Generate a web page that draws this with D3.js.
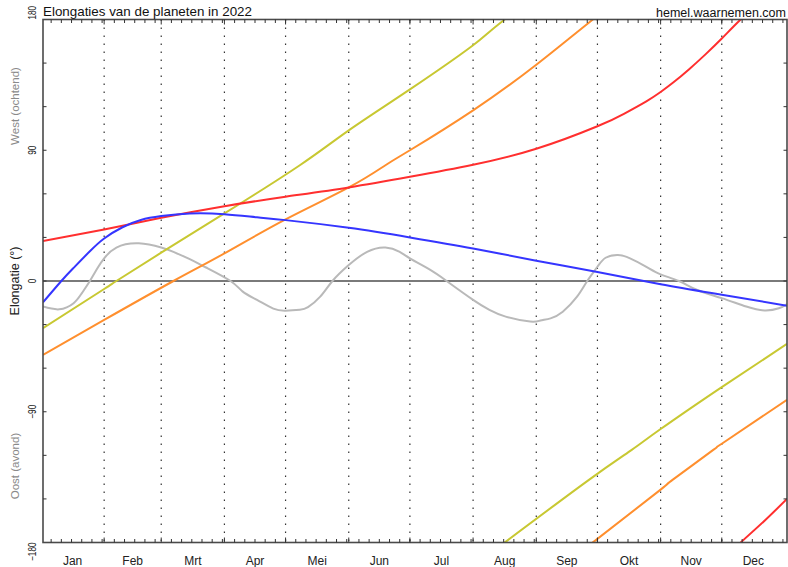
<!DOCTYPE html>
<html>
<head>
<meta charset="utf-8">
<script src="https://cdn.jsdelivr.net/npm/d3@7"></script>
<style>
  html, body { margin: 0; padding: 0; background: #fff; }
  svg { display: block; font-family: "Liberation Sans", Arial, sans-serif; }
</style>
</head>
<body>
<div id="chart"></div>
<script>
// maanden en hun lengte (2022)
const months = ['Jan', 'Feb', 'Mrt', 'Apr', 'Mei', 'Jun', 'Jul', 'Aug', 'Sep', 'Okt', 'Nov', 'Dec'];
const monthDays = [31, 28, 31, 30, 31, 30, 31, 31, 30, 31, 30, 31];
const yTicks = [-180, -90, 0, 90, 180];

// elongatie in graden per dag van het jaar (west = positief)
const mercuryDays = [1, 9, 16, 20, 24, 28, 31, 37, 48, 59, 65, 73, 81, 93, 99, 106, 114, 120, 127, 131, 137, 143,
  151, 160, 169, 176, 181, 191, 199, 212, 220, 228, 240, 245, 250, 256, 263, 268, 273, 277, 283, 289, 297,
  304, 313, 322, 334, 346, 355, 362, 366];
const mercuryElong = [-17.6, -19.5, -15.3, -8.5, 0, 9.5, 15.6, 23, 25.9, 23.1, 20.1, 15, 9.3, 0, -7.3, -13, -19, -20.4, -19.8, -18, -10.8, 0,
  11, 20.1, 23.1, 20.1, 15.6, 7.6, 0, -13, -19.9, -24.5, -27.9, -27.2, -25.7, -21.1, -10.8, 0, 9.8, 16, 17.9, 15.6, 9.8,
  4.6, 0, -6.2, -11.8, -17.6, -20.3, -18.8, -15.8];

const venusDays = [1, 10, 16, 24, 31, 40, 49, 59, 73, 90, 106, 120, 151, 181, 212, 243, 273, 304, 334, 366];
const venusElong = [-14.7, 0, 9, 20.5, 29.3, 37, 42, 44.7, 46.5, 46, 43.8, 41.9, 36.6, 30, 22.4, 14, 6.2, -2.2, -9.4, -17];

const marsDays = [1, 31, 59, 90, 120, 151, 181, 212, 243, 273, 286, 297, 304, 310, 318, 326, 334, 343, 355, 366];
const marsElong = [27.5, 35.5, 43.5, 51.5, 58, 64.4, 71.7, 80, 91, 106.5, 115.1, 123.7, 130.1, 136.4, 145.8, 156, 166.9, 179.7, -165, -150];

const jupiterDays = [1, 31, 65, 90, 120, 151, 169, 181, 212, 243, 270, 304, 310, 330, 334, 366];
const jupiterElong = [-50.8, -26.8, 0, 19, 42.4, 64.4, 79.7, 90, 117.5, 148.9, 179.2, -143.6, -136.7, -116.1, -112, -81.8];

const saturnDays = [1, 31, 37, 59, 90, 127, 151, 181, 212, 227, 269, 290, 304, 334, 366];
const saturnElong = [-32.5, -5.5, 0, 19.5, 46.5, 79.7, 103.7, 131.9, 162.3, 179.5, -136.7, -116.1, -101.9, -73, -43.3];

const planets = [
  { name: 'Mercurius', days: mercuryDays, vals: mercuryElong, color: '#b9b9b9' },
  { name: 'Saturnus', days: saturnDays, vals: saturnElong, color: '#c8c832' },
  { name: 'Jupiter', days: jupiterDays, vals: jupiterElong, color: '#ff8f2e' },
  { name: 'Mars', days: marsDays, vals: marsElong, color: '#ff2f2f' },
  { name: 'Venus', days: venusDays, vals: venusElong, color: '#3535ff' },
];

const width = 788, height = 567;
const plotL = 43, plotR = 787, plotT = 19.5, plotB = 542.5;

const x = d3.scaleLinear().domain([1, 366]).range([plotL, plotR]);
const y = d3.scaleLinear().domain([-180, 180]).range([plotB, plotT]);

const svg = d3.select('#chart').append('svg')
  .attr('width', width).attr('height', height)
  .attr('viewBox', `0 0 ${width} ${height}`);

svg.append('defs').append('clipPath').attr('id', 'plot-clip')
  .append('rect').attr('x', plotL).attr('y', plotT).attr('width', plotR - plotL).attr('height', plotB - plotT);

// maandgrenzen (dag waarop de maand eindigt)
const monthEnds = d3.cumsum(monthDays);
const monthStarts = [0, ...monthEnds.slice(0, -1)];

svg.append('g').selectAll('line').data(monthEnds.slice(0, -1)).join('line')
  .attr('x1', (d) => x(d)).attr('x2', (d) => x(d))
  .attr('y1', plotT).attr('y2', plotB)
  .attr('stroke', '#333').attr('stroke-width', 1.2)
  .attr('stroke-dasharray', '1.5,6.5');

// nul-lijn
svg.append('line')
  .attr('x1', plotL).attr('x2', plotR).attr('y1', y(0)).attr('y2', y(0))
  .attr('stroke', '#7a7a7a').attr('stroke-width', 2);

// curves, met omslag bij +/-180
function segments(days, vals) {
  const segs = [[]];
  days.forEach((d, i) => {
    if (i > 0 && Math.abs(vals[i] - vals[i - 1]) > 180) {
      const shift = vals[i] < vals[i - 1] ? 360 : -360;
      segs[segs.length - 1].push([d, vals[i] + shift]);
      segs.push([[days[i - 1], vals[i - 1] - shift]]);
    }
    segs[segs.length - 1].push([d, vals[i]]);
  });
  return segs;
}

const line = d3.line().x((d) => x(d[0])).y((d) => y(d[1])).curve(d3.curveNatural);

const curves = svg.append('g').attr('clip-path', 'url(#plot-clip)');
planets.forEach((p) => {
  curves.append('g').selectAll('path').data(segments(p.days, p.vals)).join('path')
    .attr('d', line)
    .attr('fill', 'none')
    .attr('stroke', p.color)
    .attr('stroke-width', 2)
    .attr('stroke-linejoin', 'round');
});

// kader
svg.append('rect')
  .attr('x', plotL).attr('y', plotT).attr('width', plotR - plotL).attr('height', plotB - plotT)
  .attr('fill', 'none').attr('stroke', '#4a4a4a').attr('stroke-width', 1.6);

// tijd-ticks: elke 5 dagen binnen de maand plus de maandgrenzen
const minorDays = [];
monthStarts.forEach((s, i) => {
  for (let k = 5; k <= monthDays[i]; k += 5) minorDays.push(s + k);
});
const ticksG = svg.append('g').attr('stroke', '#333').attr('stroke-width', 1);
[[minorDays, 3.5], [monthEnds.slice(0, -1), 5]].forEach(([days, len]) => {
  ticksG.append('g').selectAll('line').data(days).join('line')
    .attr('x1', (d) => x(d)).attr('x2', (d) => x(d)).attr('y1', plotB).attr('y2', plotB - len);
  ticksG.append('g').selectAll('line').data(days).join('line')
    .attr('x1', (d) => x(d)).attr('x2', (d) => x(d)).attr('y1', plotT).attr('y2', plotT + len);
});

// graden-ticks elke 30
const degTicks = d3.range(-150, 151, 30);
ticksG.append('g').selectAll('line').data(degTicks).join('line')
  .attr('x1', plotL).attr('x2', plotL + 3.5).attr('y1', (d) => y(d)).attr('y2', (d) => y(d));
ticksG.append('g').selectAll('line').data(degTicks).join('line')
  .attr('x1', plotR).attr('x2', plotR - 3.5).attr('y1', (d) => y(d)).attr('y2', (d) => y(d));

// maandnamen
svg.append('g').selectAll('text').data(months).join('text')
  .attr('x', (d, i) => x((monthStarts[i] + monthEnds[i]) / 2))
  .attr('y', 565)
  .attr('text-anchor', 'middle')
  .attr('font-size', 12)
  .attr('fill', '#222')
  .text((d) => d);

// y-labels (gedraaid)
svg.append('g').selectAll('text').data(yTicks).join('text')
  .attr('transform', (d) => `translate(35.5,${y(d)}) rotate(-90) scale(0.78,1)`)
  .attr('text-anchor', (d) => (d === 180 ? 'start' : d === -180 ? 'end' : 'middle'))
  .attr('font-size', 10.5)
  .attr('fill', '#222')
  .text((d) => (d < 0 ? '\u2212' + Math.abs(d) : d));

const sideLabels = [
  { text: 'West (ochtend)', at: 106, color: '#8a8a8a', size: 11.5 },
  { text: 'Elongatie (\u00b0)', at: 281, color: '#222', size: 12.5 },
  { text: 'Oost (avond)', at: 466, color: '#8a8a8a', size: 11.5 },
];
svg.append('g').selectAll('text').data(sideLabels).join('text')
  .attr('transform', (d) => `translate(19,${d.at}) rotate(-90)`)
  .attr('text-anchor', 'middle')
  .attr('font-size', (d) => d.size)
  .attr('fill', (d) => d.color)
  .text((d) => d.text);

svg.append('text')
  .attr('x', 43).attr('y', 15.5)
  .attr('font-size', 13.5).attr('fill', '#111')
  .attr('textLength', 209).attr('lengthAdjust', 'spacingAndGlyphs')
  .text('Elongaties van de planeten in 2022');

svg.append('text')
  .attr('x', 786).attr('y', 16.5)
  .attr('text-anchor', 'end')
  .attr('font-size', 12.5).attr('fill', '#111')
  .attr('textLength', 130).attr('lengthAdjust', 'spacingAndGlyphs')
  .text('hemel.waarnemen.com');
</script>
</body>
</html>
